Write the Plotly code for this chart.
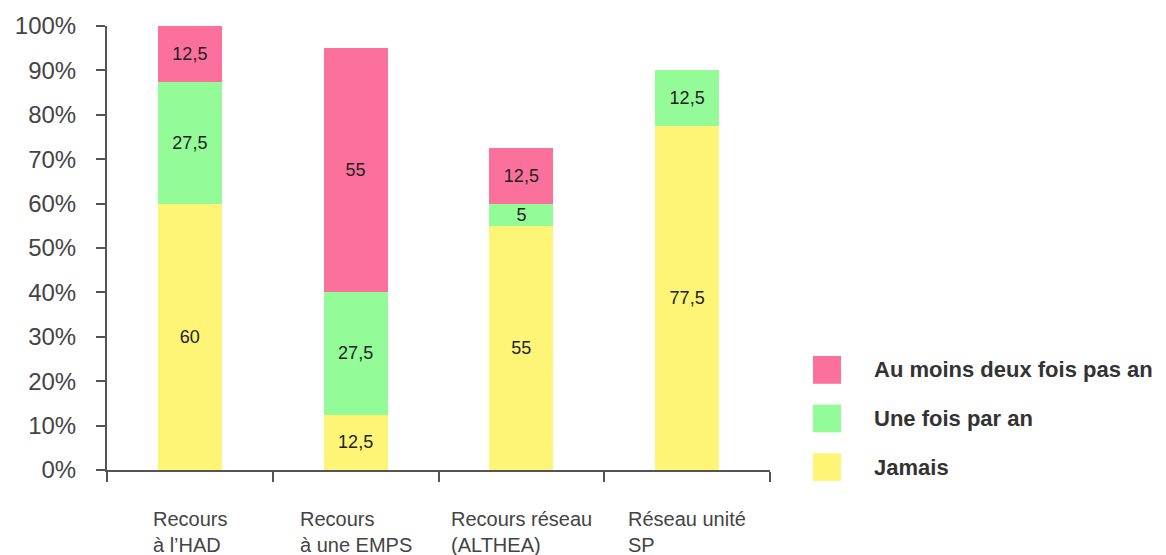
import plotly.graph_objects as go

# Categories and stacked shares (%)
categories = ["Recours<br>à l’HAD", "Recours<br>à une EMPS",
              "Recours réseau<br>(ALTHEA)", "Réseau unité<br>SP"]
jamais = [60, 12.5, 55, 77.5]
une_fois = [27.5, 27.5, 5, 12.5]
deux_fois = [12.5, 55, 12.5, None]

series = [
    ("Jamais", jamais, "#FEF577"),
    ("Une fois par an", une_fois, "#93FC98"),
    ("Au moins deux fois pas an", deux_fois, "#FC709C"),
]
y_ticks = list(range(0, 101, 10))
y_tick_labels = [f"{v}%" for v in y_ticks]

W, H = 1166, 555
L, R, T, B = 107, 396, 22, 85
PW, PH = W - L - R, H - T - B
FONT = "Liberation Sans, Arial, sans-serif"


def fmt(v):
    if v is None:
        return ""
    s = f"{v:g}"
    return s.replace(".", ",")


def px(x, y):
    """pixel position -> paper coordinates"""
    return (x - L) / PW, (H - B - y) / PH


xs = list(range(len(categories)))
fig = go.Figure()
for name, vals, color in series:
    fig.add_trace(go.Bar(
        x=xs, y=vals, name=name, width=0.386,
        marker=dict(color=color, line=dict(width=0)),
        text=[fmt(v) for v in vals],
        textposition="inside", insidetextanchor="middle", textangle=0,
        textfont=dict(family=FONT, size=18, color="#222"),
        showlegend=False,
    ))

# category labels below the axis
for i, c in enumerate(categories):
    fig.add_annotation(x=i, y=0, xref="x", yref="paper", text=c,
                       showarrow=False, xanchor="center", yanchor="top",
                       align="left", yshift=-36,
                       font=dict(family=FONT, size=20, color="#444"))

# legend, top to bottom
legend_rows = [(series[2][0], series[2][2], 355),
               (series[1][0], series[1][2], 404),
               (series[0][0], series[0][2], 453)]
for name, color, top in legend_rows:
    x0, y0 = px(813, top)
    x1, y1 = px(841, top + 28)
    fig.add_shape(type="rect", xref="paper", yref="paper",
                  x0=x0, x1=x1, y0=y1, y1=y0,
                  fillcolor=color, line=dict(width=0))
    tx, ty = px(872, top + 14)
    fig.add_annotation(x=tx, y=ty, xref="paper", yref="paper",
                       text=f"<b>{name}</b>", showarrow=False,
                       xanchor="left", yanchor="middle",
                       font=dict(family=FONT, size=22, color="#333"))

fig.update_layout(
    width=W, height=H,
    margin=dict(l=L, r=R, t=T, b=B, pad=0),
    barmode="stack",
    plot_bgcolor="white", paper_bgcolor="white",
    uniformtext=dict(minsize=18, mode="show"),
    xaxis=dict(range=[-0.5, 3.5], tickvals=[-0.5, 0.5, 1.5, 2.5, 3.5],
               ticks="outside", ticklen=10, tickwidth=2, tickcolor="#555",
               showticklabels=False, showline=True, linecolor="#555",
               linewidth=2, showgrid=False, zeroline=False, fixedrange=True),
    yaxis=dict(range=[0, 100], tickmode="array", tickvals=y_ticks,
               ticktext=y_tick_labels,
               ticks="outside", ticklen=9, tickwidth=2, tickcolor="#555",
               showline=True, linecolor="#555", linewidth=2,
               showgrid=False, zeroline=False, ticklabelstandoff=15,
               tickfont=dict(family=FONT, size=24, color="#444")),
)

fig.write_html("out.html")
